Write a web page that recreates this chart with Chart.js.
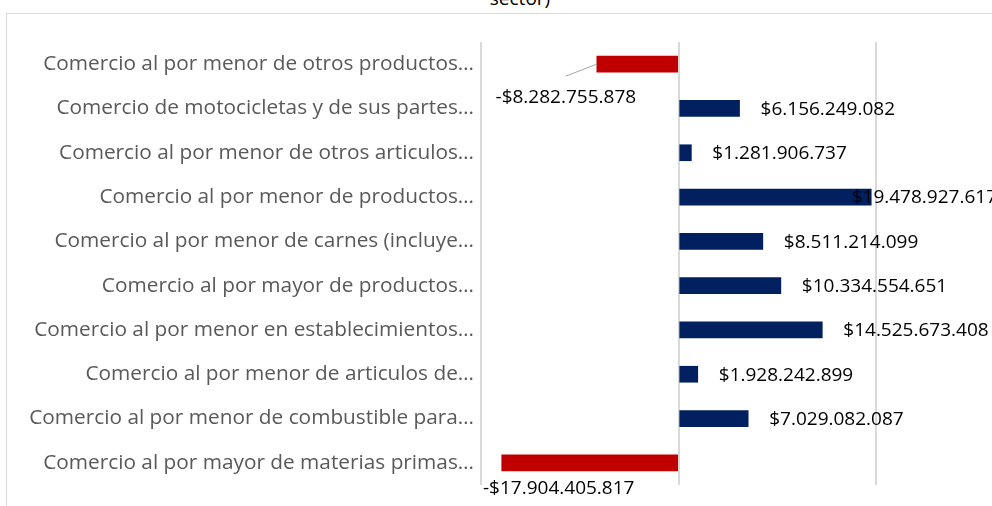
<!DOCTYPE html>
<html>
<head>
<meta charset="utf-8">
<script src="https://cdn.jsdelivr.net/npm/chart.js@4/dist/chart.umd.min.js"></script>
<style>
  html, body { margin: 0; padding: 0; background: #fff; overflow: hidden; width: 992px; height: 506px; }
  #title { position: absolute; left: 6px; width: 1028px; top: -12px; text-align: center; font-family: "Open Sans"; font-size: 19px; line-height: 20px; color: #000; }
  #box { position: absolute; left: 6px; top: 13px; width: 1026px; height: 500px; border: 1px solid #d9d9d9; }
</style>
</head>
<body>
<div id="title">sector)</div>
<div id="box"><canvas id="myChart"></canvas></div>
<script>
let categories = [
  "Comercio al por menor de otros productos…",
  "Comercio de motocicletas y de sus partes…",
  "Comercio al por menor de otros articulos…",
  "Comercio al por menor de productos…",
  "Comercio al por menor de carnes (incluye…",
  "Comercio al por mayor de productos…",
  "Comercio al por menor en establecimientos…",
  "Comercio al por menor de articulos de…",
  "Comercio al por menor de combustible para…",
  "Comercio al por mayor de materias primas…",
];
let values = [
  -8282755878, 6156249082, 1281906737, 19478927617, 8511214099,
  10334554651, 14525673408, 1928242899, 7029082087, -17904405817,
];
let gridTicks = [-20000000000, 0, 20000000000];
let axisMin = -20000000000;
let axisMax = 32200000000;

function money(v) {
  let s = Math.abs(v).toString().replace(/\B(?=(\d{3})+(?!\d))/g, ".");
  return (v < 0 ? "-" : "") + "$" + s;
}

let barLabels = {
  id: "barLabels",
  afterDatasetsDraw(chart) {
    let ctx = chart.ctx;
    let area = chart.chartArea;
    let bars = chart.getDatasetMeta(0).data;
    ctx.save();
    ctx.font = '19px "Open Sans"';
    ctx.fillStyle = "#000";
    ctx.textBaseline = "middle";
    bars.forEach((bar, i) => {
      let v = values[i];
      let txt = money(v);
      let w = ctx.measureText(txt).width;
      if (v >= 0) {
        let x = bar.x + 21;
        if (x + w > area.right) x = area.right - w;
        ctx.textAlign = "left";
        ctx.fillText(txt, x, bar.y + 1);
      } else if (i == 0) {
        // label moved down-left with a leader line
        ctx.strokeStyle = "#a6a6a6";
        ctx.lineWidth = 1;
        ctx.beginPath();
        ctx.moveTo(bar.x, bar.y);
        ctx.lineTo(bar.x - 31, bar.y + 12);
        ctx.stroke();
        ctx.textAlign = "center";
        ctx.fillText(txt, bar.x - 31, bar.y + 33);
      } else {
        ctx.textAlign = "center";
        ctx.fillText(txt, bar.x + 57, bar.y + 26);
      }
    });
    ctx.restore();
  },
};

let myChart = document.getElementById("myChart").getContext("2d");
let chart = new Chart(myChart, {
  type: "bar",
  data: {
    labels: categories,
    datasets: [
      {
        data: values,
        backgroundColor: values.map((v) => (v < 0 ? "#c00000" : "#002060")),
        barThickness: 16,
      },
    ],
  },
  options: {
    indexAxis: "y",
    responsive: true,
    maintainAspectRatio: false,
    animation: false,
    layout: { padding: { top: 28, bottom: 29, right: 36, left: 0 } },
    plugins: { legend: { display: false }, tooltip: { enabled: false } },
    scales: {
      x: {
        min: axisMin,
        max: axisMax,
        afterBuildTicks: (scale) => {
          scale.ticks = gridTicks.map((v) => ({ value: v }));
        },
        ticks: { display: false },
        grid: { color: "#d9d9d9", lineWidth: 2, drawTicks: false },
        border: { display: false },
      },
      y: {
        afterFit: (scale) => {
          scale.width = 474;
        },
        ticks: {
          color: "#595959",
          font: { family: "Open Sans", size: 20.8 },
          padding: 7,
          autoSkip: false,
        },
        grid: { display: false, drawTicks: false },
        border: { display: false },
      },
    },
  },
  plugins: [barLabels],
});
</script>
</body>
</html>
